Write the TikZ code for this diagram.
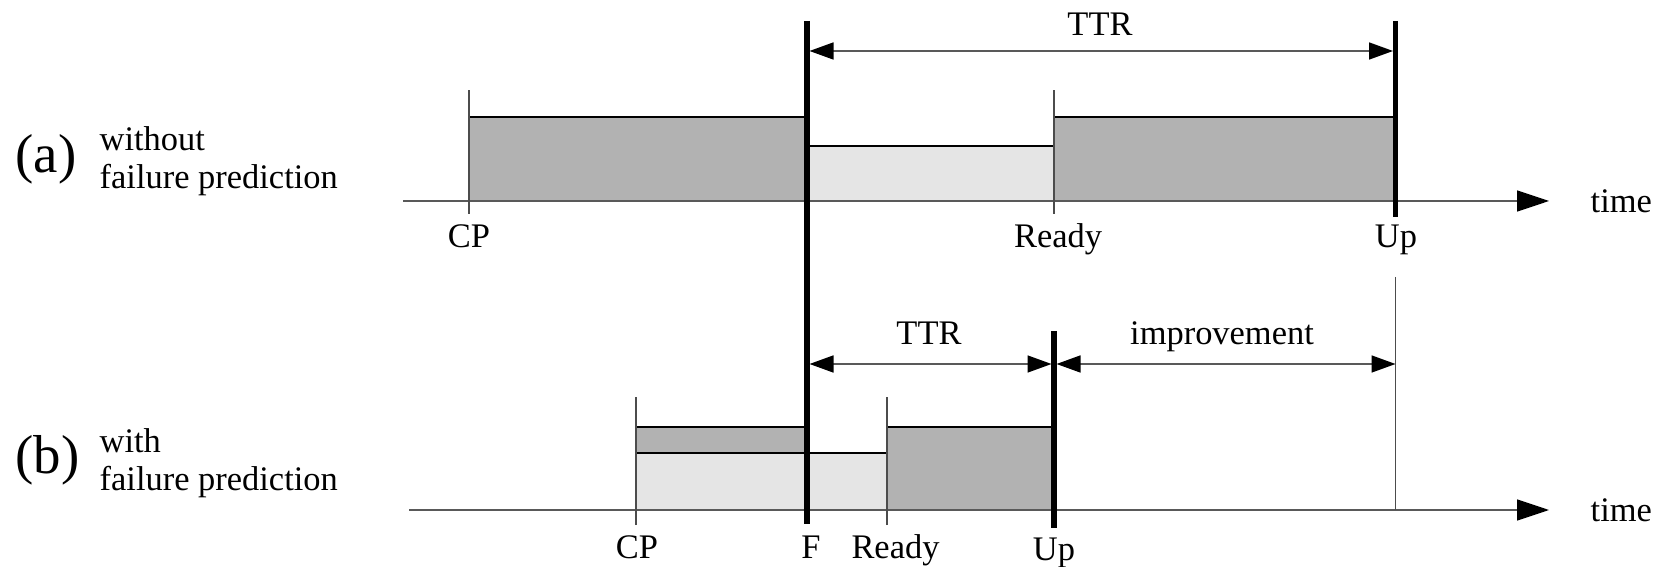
\documentclass[tikz,border=0pt]{standalone}
\usepackage{fontspec}
\setmainfont{Liberation Serif}
\usepackage{tikz}
\usetikzlibrary{arrows.meta, positioning, calc}

\begin{document}
\begin{tikzpicture}[
    busy/.style={draw=black, line width=0.3pt, fill=black!30},
    idle/.style={draw=black, line width=0.3pt, fill=black!10},
    axis/.style={-{Triangle[length=0.32cm, width=0.21cm, color=black]},
        line width=0.45pt, color=black!65},
    tick/.style={line width=0.35pt, color=black!70},
    event/.style={line width=1.5pt, color=black},
    dim/.style={{Triangle[length=0.24cm, width=0.17cm, color=black]}-{Triangle[length=0.24cm, width=0.17cm, color=black]},
        line width=0.45pt, color=black!65},
    lbl/.style={font=\fontsize{9.8pt}{11pt}\selectfont, inner sep=0pt, anchor=base},
    case/.style={font=\fontsize{15.6pt}{18pt}\selectfont, inner sep=0pt, anchor=base west},
    desc/.style={font=\fontsize{9.8pt}{10.8pt}\selectfont, inner sep=0pt,
        anchor=west, align=left}
]
    \useasboundingbox (0,0) rectangle (16.61,5.66);

    % (a): without failure prediction
    \draw[busy] (4.69,3.65) rectangle (8.07,4.49);
    \draw[idle] (8.07,3.65) rectangle (10.54,4.20);
    \draw[busy] (10.54,3.65) rectangle (13.955,4.49);

    \coordinate (a-start) at (4.03,3.65);
    \coordinate (a-end)   at (15.49,3.65);
    \draw[axis] (a-start) -- (a-end);
    \node[lbl, anchor=base west] (a-time) at (15.90,3.53) {time};

    \draw[tick] (4.69,3.52) -- (4.69,4.76);
    \draw[tick] (10.54,3.52) -- (10.54,4.76);

    \node[lbl] (a-cp)    at (4.69,3.18)  {CP};
    \node[lbl] (a-ready) at (10.58,3.18) {Ready};
    \node[lbl] (a-up)    at (13.96,3.18) {Up};

    \node[case] (a-case) at (0.15,3.93) {(a)};
    \node[desc] (a-desc) at (0.99,4.05) {without\\failure prediction};

    % (b): with failure prediction
    \draw[busy] (6.36,1.13) rectangle (8.07,1.39);
    \draw[idle] (6.36,0.56) rectangle (8.87,1.13);
    \draw[busy] (8.87,0.56) rectangle (10.54,1.39);

    \coordinate (b-start) at (4.09,0.56);
    \coordinate (b-end)   at (15.49,0.56);
    \draw[axis] (b-start) -- (b-end);
    \node[lbl, anchor=base west] (b-time) at (15.90,0.44) {time};

    \draw[tick] (6.36,0.41) -- (6.36,1.69);
    \draw[tick] (8.87,0.41) -- (8.87,1.69);

    % old repair end, carried down
    \coordinate (old-up-top) at (13.955,2.89);
    \coordinate (old-up-bot) at (13.955,0.56);
    \draw[tick] (old-up-top) -- (old-up-bot);

    \node[lbl] (b-cp)    at (6.37,0.08)  {CP};
    \node[lbl] (b-f)     at (8.11,0.08)  {F};
    \node[lbl] (b-ready) at (8.955,0.08) {Ready};
    \node[lbl] (b-up)    at (10.54,0.06) {Up};

    \node[case] (b-case) at (0.15,0.93) {(b)};
    \node[desc] (b-desc) at (0.99,1.025) {with\\failure prediction};

    % failure and up events
    \coordinate (f-top)  at (8.07,5.45);
    \coordinate (f-bot)  at (8.07,0.42);
    \coordinate (up-top) at (13.955,5.45);
    \coordinate (up-bot) at (13.955,3.49);
    \coordinate (upb-top) at (10.54,2.35);
    \coordinate (upb-bot) at (10.54,0.38);
    \draw[event] (f-top) -- (f-bot);
    \draw[event] (up-top) -- (up-bot);
    \draw[event] (upb-top) -- (upb-bot);

    % time to repair and gain
    \coordinate (ttr-a-l) at (8.095,5.15);
    \coordinate (ttr-a-r) at (13.93,5.15);
    \draw[dim] (ttr-a-l) -- (ttr-a-r);
    \node[lbl] (ttr-a) at (11.00,5.30) {TTR};

    \coordinate (ttr-b-l) at (8.095,2.02);
    \coordinate (ttr-b-r) at (10.515,2.02);
    \coordinate (imp-l)   at (10.565,2.02);
    \coordinate (imp-r)   at (13.955,2.02);
    \draw[dim] (ttr-b-l) -- (ttr-b-r);
    \draw[dim] (imp-l) -- (imp-r);
    \node[lbl] (ttr-b) at (9.29,2.21)  {TTR};
    \node[lbl] (imp)   at (12.22,2.21) {improvement};
\end{tikzpicture}
\end{document}
